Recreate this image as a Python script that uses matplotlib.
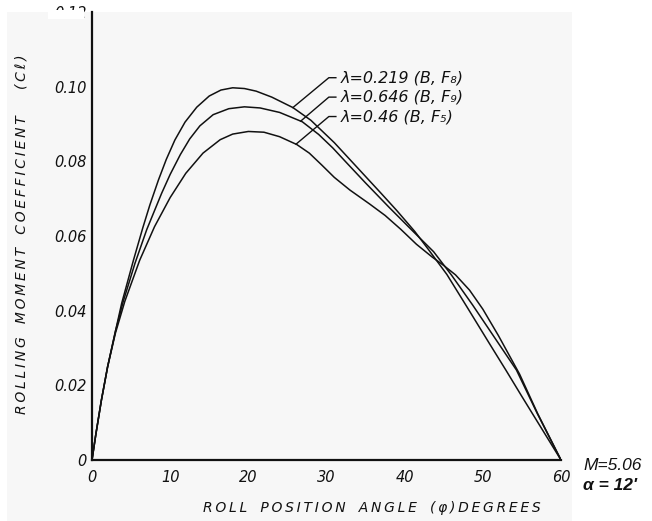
import numpy as np
import matplotlib
matplotlib.use("Agg")
import matplotlib.pyplot as plt
from matplotlib.patches import Rectangle

# Roll position angle (deg) and rolling moment coefficient for each configuration
phi_219 = [0, 0.5, 1.2, 2, 3, 3.8, 5.3, 6.5, 7.4, 8.5, 9.5, 10.6, 11.9, 13.4, 15, 16.5,
           18, 19.5, 21, 23, 25.7, 28, 31, 34, 37, 39, 41.3, 43, 45.4, 48, 50.9, 53, 55,
           57.5, 60]
cl_219 = [0, 0.007, 0.016, 0.025, 0.0345, 0.042, 0.0535, 0.0622, 0.0683, 0.0750, 0.0805,
          0.0857, 0.0905, 0.0945, 0.0975, 0.0991, 0.0997, 0.0995, 0.0988, 0.0972, 0.0944,
          0.0910, 0.0850, 0.0782, 0.0714, 0.0668, 0.0612, 0.0565, 0.0497, 0.0409, 0.0310,
          0.0239, 0.0170, 0.0085, 0]

phi_646 = [0, 0.5, 1.2, 2, 3, 4, 5.5, 7, 8.9, 10, 11.3, 12.5, 13.8, 15.5, 17.5, 19.5,
           21.5, 24, 26.9, 29, 30.8, 32.4, 35, 38, 41, 43.7, 46, 48.7, 51.5, 54.3, 57, 60]
cl_646 = [0, 0.007, 0.016, 0.025, 0.0345, 0.0425, 0.0527, 0.0617, 0.0714, 0.0765, 0.0818,
          0.0860, 0.0895, 0.0925, 0.0941, 0.0946, 0.0943, 0.0931, 0.0906, 0.0872, 0.0836,
          0.0800, 0.0742, 0.0677, 0.0614, 0.0558, 0.0495, 0.0415, 0.0328, 0.0241, 0.0123, 0]

phi_46 = [0, 0.5, 1.2, 2, 3, 4.2, 6.1, 8, 10, 12, 14.2, 16.4, 18, 20, 22, 24, 26.2, 27.8,
          29.4, 31, 33, 35.5, 37.5, 39.5, 41.5, 43.5, 45, 46.5, 48.3, 50, 52, 54.7, 57, 60]
cl_46 = [0, 0.007, 0.016, 0.025, 0.034, 0.0425, 0.0535, 0.0625, 0.0703, 0.0768, 0.0822,
         0.0858, 0.0873, 0.0880, 0.0878, 0.0866, 0.0845, 0.0822, 0.0790, 0.0757, 0.0723,
         0.0686, 0.0655, 0.0618, 0.0578, 0.0544, 0.0521, 0.0496, 0.0455, 0.0404, 0.0333,
         0.0230, 0.0125, 0]

x_ticks = [0, 10, 20, 30, 40, 50, 60]
y_ticks = [0, 0.02, 0.04, 0.06, 0.08, 0.10, 0.12]
y_tick_labels = ["0", "0.02", "0.04", "0.06", "0.08", "0.10", "0.12"]

curve_labels = ["λ=0.219 (B, F₈)", "λ=0.646 (B, F₉)", "λ=0.46 (B, F₅)"]
leader_phi = [25.7, 26.7, 26.1]
label_y = [0.1024, 0.0972, 0.0920]

ink = "#111111"
paper = "#f7f7f7"
hand = dict(family="DejaVu Sans", style="italic", color=ink)


def lettered(text):
    """Hand-lettered look: thin gaps between letters, wide gaps between words."""
    return "   ".join("\u2009".join(word) for word in text.split(" "))


fig = plt.figure(figsize=(6.52, 5.21), dpi=100)
fig.patch.set_facecolor("white")
fig.patches.append(Rectangle((7 / 652, 0), (572 - 7) / 652, (521 - 12) / 521,
                             transform=fig.transFigure, facecolor=paper,
                             edgecolor="none", zorder=-10))

ax = fig.add_axes([92 / 652, (521 - 460) / 521, 469 / 652, 448 / 521])
ax.patch.set_alpha(0)

for phi, cl in [(phi_219, cl_219), (phi_646, cl_646), (phi_46, cl_46)]:
    ax.plot(phi, cl, color=ink, lw=1.1, solid_joinstyle="round")

ax.set_xlim(0, 60)
ax.set_ylim(0, 0.12)
for side in ("top", "right"):
    ax.spines[side].set_visible(False)
for side in ("left", "bottom"):
    ax.spines[side].set_linewidth(1.6)
    ax.spines[side].set_color(ink)

ax.set_xticks(x_ticks)
ax.set_xticklabels([str(v) for v in x_ticks], **hand, fontsize=10.5)
ax.set_yticks(y_ticks)
ax.set_yticklabels(y_tick_labels, **hand, fontsize=10.5)
ax.tick_params(axis="y", length=0, pad=4)
ax.tick_params(axis="x", length=0, pad=7)

fig.text(372 / 652, 1 - 508 / 521, lettered("ROLL POSITION ANGLE (φ)DEGREES"),
         **hand, fontsize=10, ha="center", va="center")
fig.text(22 / 652, 1 - 234 / 521, lettered("ROLLING MOMENT COEFFICIENT  (Cℓ)"),
         **hand, fontsize=10, ha="center", va="center", rotation=90)

# Leader lines from each label to its curve
series = [(phi_219, cl_219), (phi_646, cl_646), (phi_46, cl_46)]
for (phi, cl), lp, ly, text in zip(series, leader_phi, label_y, curve_labels):
    yp = np.interp(lp, phi, cl)
    ax.plot([lp, 30.3, 31.2], [yp, ly, ly], color=ink, lw=1.0, clip_on=False)
    ax.text(31.8, ly, text, **hand, fontsize=11.5, va="center", ha="left")

fig.text(583 / 652, 1 - 465 / 521, "M=5.06", family="Liberation Sans", style="italic",
         fontsize=12.5, va="center", ha="left", color=ink)
fig.text(583 / 652, 1 - 486 / 521, "α = 12'", family="Liberation Sans", style="italic",
         weight="bold", fontsize=12.5, va="center", ha="left", color=ink)

# blank strip over the lower half of the top tick label
fig.add_artist(Rectangle((48 / 652, 1 - 19 / 521), 36 / 652, 9 / 521,
                         transform=fig.transFigure, facecolor="white",
                         edgecolor="none", zorder=5))

fig.savefig("out.png", dpi=100, facecolor="white")
